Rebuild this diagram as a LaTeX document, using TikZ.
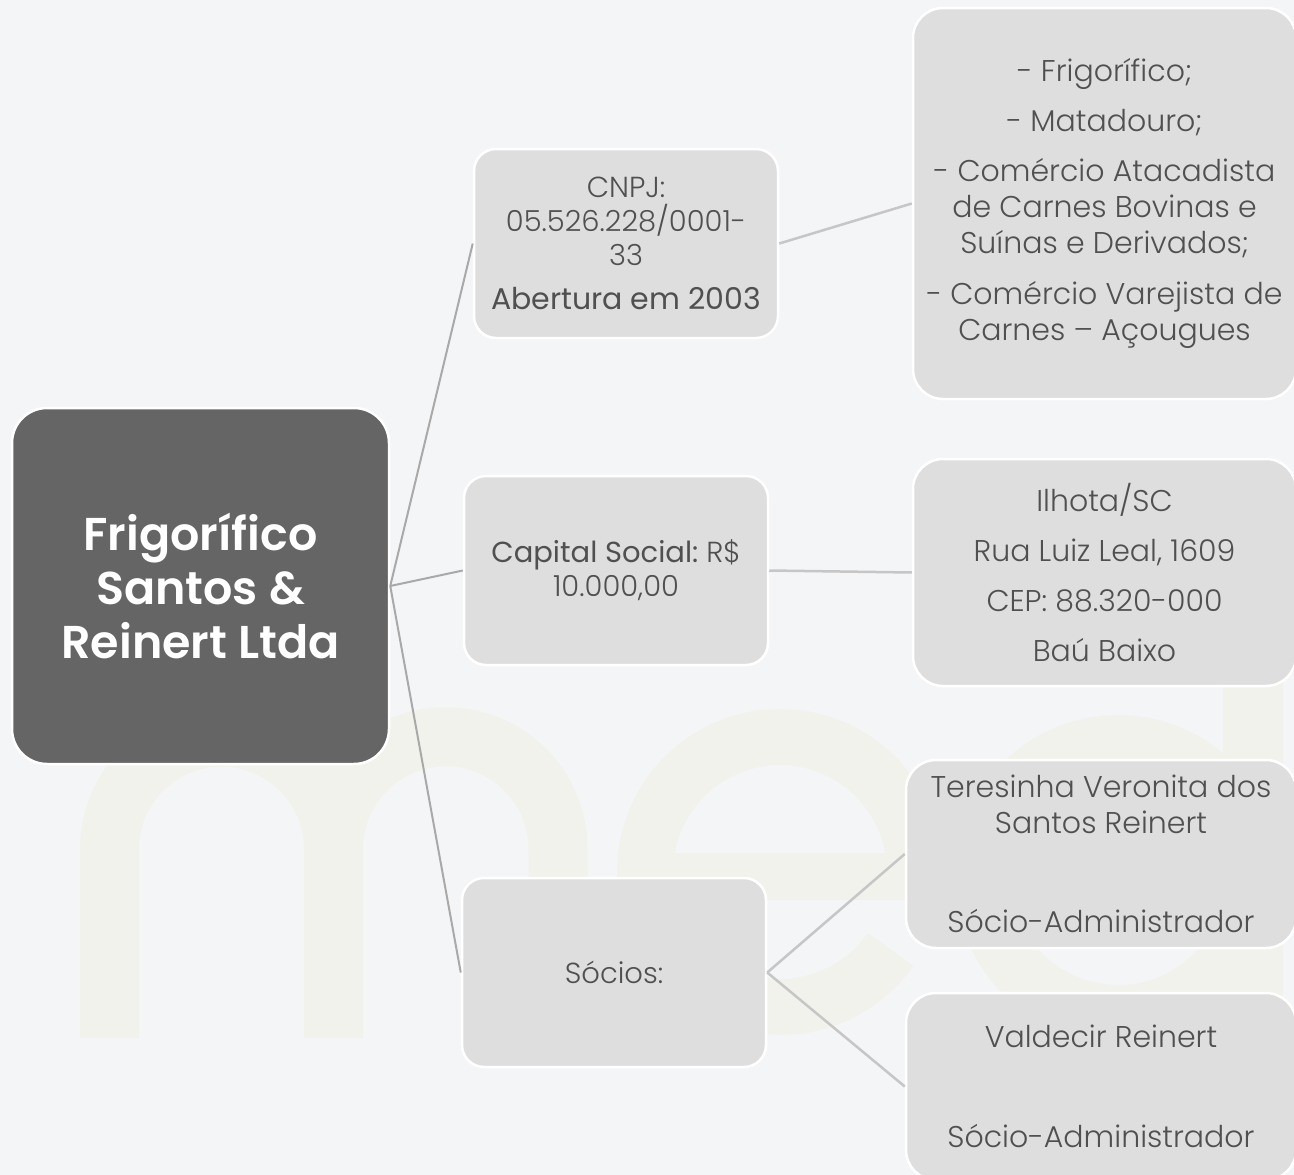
\documentclass[tikz,border=0pt]{standalone}
\usepackage{fontspec}
\setmainfont{Poppins}[UprightFont=* Light, BoldFont=* SemiBold]
\newfontfamily\regfont{Poppins}
\definecolor{bg}{HTML}{F4F5F7}
\definecolor{wm}{HTML}{F2F2EC}
\definecolor{dark}{HTML}{656565}
\definecolor{boxc}{HTML}{DEDEDE}
\definecolor{txt}{HTML}{505050}
\definecolor{lineA}{HTML}{A9A9A9}
\definecolor{lineB}{HTML}{C6C6C6}
\tikzset{
  root/.style={draw=white, line width=2.5pt, fill=dark, rounded corners=35pt,
    minimum width=377pt, minimum height=356pt, inner sep=0pt, align=center,
    text=white, font=\bfseries\fontsize{46pt}{54pt}\selectfont},
  midbox/.style={draw=white, line width=2.5pt, fill=boxc, rounded corners=22pt,
    minimum width=304pt, minimum height=189pt, inner sep=0pt, align=center,
    text=txt, font=\frenchspacing\fontsize{29pt}{34pt}\selectfont},
  leafbox/.style={draw=white, line width=2.5pt, fill=boxc, rounded corners=30pt,
    inner sep=0pt, align=center, text=txt, font=\frenchspacing\fontsize{30pt}{36pt}\selectfont},
  linkA/.style={draw=lineA, line width=2pt},
  linkB/.style={draw=lineB, line width=2.5pt},
}
\begin{document}
\begin{tikzpicture}[x=1pt, y=-1pt]
\useasboundingbox (0,0) rectangle (1294,1175);
\fill[bg] (0,0) rectangle (1294,1175);
% watermark "med"
\begin{scope}[draw=wm, fill=wm, line width=59pt, line cap=butt]
  \draw (109.5,1038) -- (109.5,849) arc[start angle=180, end angle=360, radius=112] -- (333.5,1038);
  \draw (333.5,849) arc[start angle=180, end angle=360, radius=112.25] -- (558,1038);
  \draw[line width=56pt] (915,872) arc[start angle=0, end angle=-325, radius=135];
  \fill (660,853) rectangle (943,900);
  \draw[line width=56pt] (1118,878) circle[radius=135];
  \fill (1223,480) rectangle (1283,1040);
\end{scope}
% nodes
\node[root] (root) at (200.5,586) {Frigorífico\\Santos \&\\Reinert Ltda};
\node[midbox] (cnpj) at (626,243.5) {CNPJ:\\05.526.228/0001-\\33\\[10pt]{\regfont\fontsize{30pt}{36pt}\selectfont Abertura em 2003}};
\node[midbox] (cap) at (616,570.5) {{\regfont Capital Social:} R\$\\10.000,00};
\node[midbox] (soc) at (614,972.5) {Sócios:};
\node[leafbox, minimum width=383pt, minimum height=391pt] (act) at (1104.5,203.5)
  {- Frigorífico;\\[14pt]- Matadouro;\\[14pt] - Comércio Atacadista\\de Carnes Bovinas e\\Suínas e Derivados;\\[15pt]- Comércio Varejista de\\Carnes – Açougues};
\node[leafbox, minimum width=383pt, minimum height=227pt] (loc) at (1104.5,572.5)
  {Ilhota/SC\\[14pt]Rua Luiz Leal, 1609\\[14pt]CEP: 88.320-000\\[14pt]Baú Baixo};
\node[leafbox, minimum width=390pt, minimum height=188pt] (ter) at (1101,854)
  {Teresinha Veronita dos\\Santos Reinert\\[63pt]Sócio-Administrador};
\node[leafbox, minimum width=390pt, minimum height=187pt] (val) at (1101,1086.5)
  {Valdecir Reinert\\[64pt]Sócio-Administrador};
% connectors
\draw[linkA] (root.east) -- (cnpj.west);
\draw[linkA] (root.east) -- (cap.west);
\draw[linkA] (root.east) -- (soc.west);
\draw[linkB] (cnpj.east) -- (act.west);
\draw[linkB] (cap.east) -- (loc.west);
\draw[linkB] (soc.east) -- (ter.west);
\draw[linkB] (soc.east) -- (val.west);
\end{tikzpicture}
\end{document}
